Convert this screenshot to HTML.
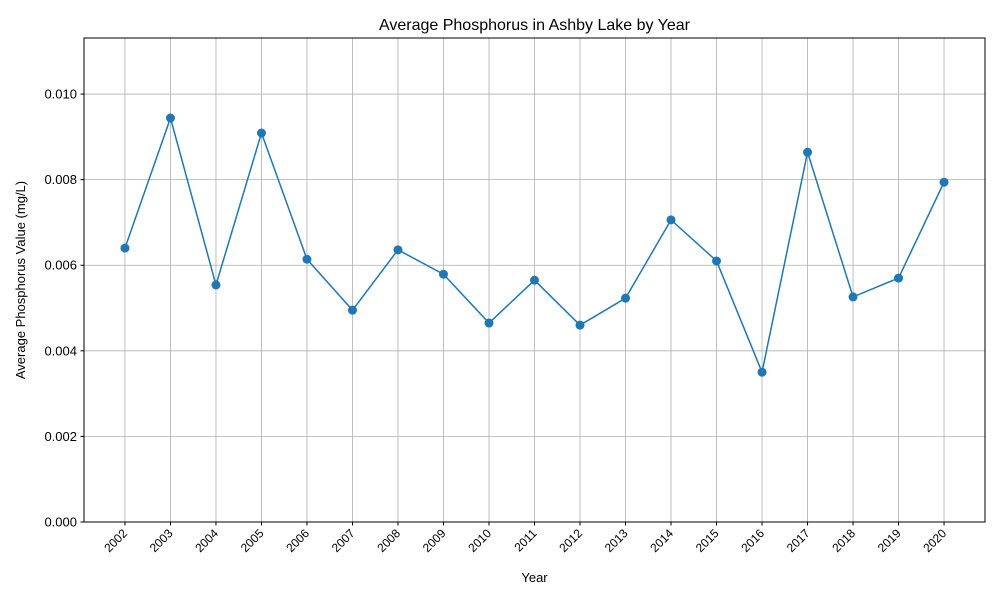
<!DOCTYPE html>
<html><head><meta charset="utf-8"><style>
body{margin:0;background:#fff}
svg text{font-family:"Liberation Sans","DejaVu Sans",sans-serif;fill:#000}
</style></head><body>
<svg id="chart" width="1000" height="600" xmlns="http://www.w3.org/2000/svg">
<rect width="1000" height="600" fill="#fff"/>
<text x="534.5" y="30" font-size="16" text-anchor="middle">Average Phosphorus in Ashby Lake by Year</text>
<g id="grid"></g>
<g id="axes"></g>
<g id="series"></g>
<rect x="84" y="38" width="901" height="484" fill="none" stroke="#000" stroke-width="1"/>
<text x="534.5" y="582" font-size="13" text-anchor="middle">Year</text>
<text transform="translate(25,280) rotate(-90)" font-size="13" text-anchor="middle">Average Phosphorus Value (mg/L)</text>
</svg>
<script>
const years=[2002,2003,2004,2005,2006,2007,2008,2009,2010,2011,2012,2013,2014,2015,2016,2017,2018,2019,2020];
const values=[0.00640,0.00944,0.00554,0.00909,0.00614,0.00495,0.00636,0.00579,0.00465,0.00565,0.00460,0.00523,0.00706,0.00610,0.00350,0.00864,0.00526,0.00570,0.00794];
const yTicks=[0,0.002,0.004,0.006,0.008,0.010];
const yTickLabels=["0.000","0.002","0.004","0.006","0.008","0.010"];
const L=84,R=985,T=38,B=522;
const xMin=years[0]-0.9,xMax=years[years.length-1]+0.9;
const yMin=0,yMax=0.01131;
const xs=v=>L+(v-xMin)/(xMax-xMin)*(R-L);
const ys=v=>B-(v-yMin)/(yMax-yMin)*(B-T);
const NS="http://www.w3.org/2000/svg";
const grid=document.getElementById('grid'),axes=document.getElementById('axes'),series=document.getElementById('series');
function mk(tag,attrs,parent){const e=document.createElementNS(NS,tag);for(const k in attrs)e.setAttribute(k,attrs[k]);parent.appendChild(e);return e;}
years.forEach(y=>{
 const x=xs(y);
 const g=mk('line',{x1:x,x2:x,y1:T,y2:B,stroke:'#b0b0b0','stroke-width':0.8},grid);
 
 
 const t=mk('line',{x1:x,x2:x,y1:B,y2:B+3.5,stroke:'#000'},axes);
 
 
 const lb=mk('text',{transform:`translate(${x+3},${B+12}) rotate(-45)`,'font-size':12,'text-anchor':'end'},axes);
 lb.textContent=y;
 
 
});
yTicks.forEach((v,i)=>{
 const y=ys(v);
 const g=mk('line',{x1:L,x2:R,y1:y,y2:y,stroke:'#b0b0b0','stroke-width':0.8},grid);
 
 
 const t=mk('line',{x1:L-3.5,x2:L,y1:y,y2:y,stroke:'#000'},axes);
 
 
 const lb=mk('text',{x:L-7,y:y+4.5,'font-size':13,'text-anchor':'end'},axes);
 lb.textContent=yTickLabels[i];
 
 
});
const pts=years.map((y,i)=>xs(y)+','+ys(values[i])).join(' ');
const line=mk('polyline',{points:pts,fill:'none',stroke:'#1f77b4','stroke-width':1.5},series);


years.forEach((y,i)=>{
 const c=mk('circle',{cx:xs(y),cy:ys(values[i]),r:4.5,fill:'#1f77b4'},series);
 
 
});
</script>
</body></html>
